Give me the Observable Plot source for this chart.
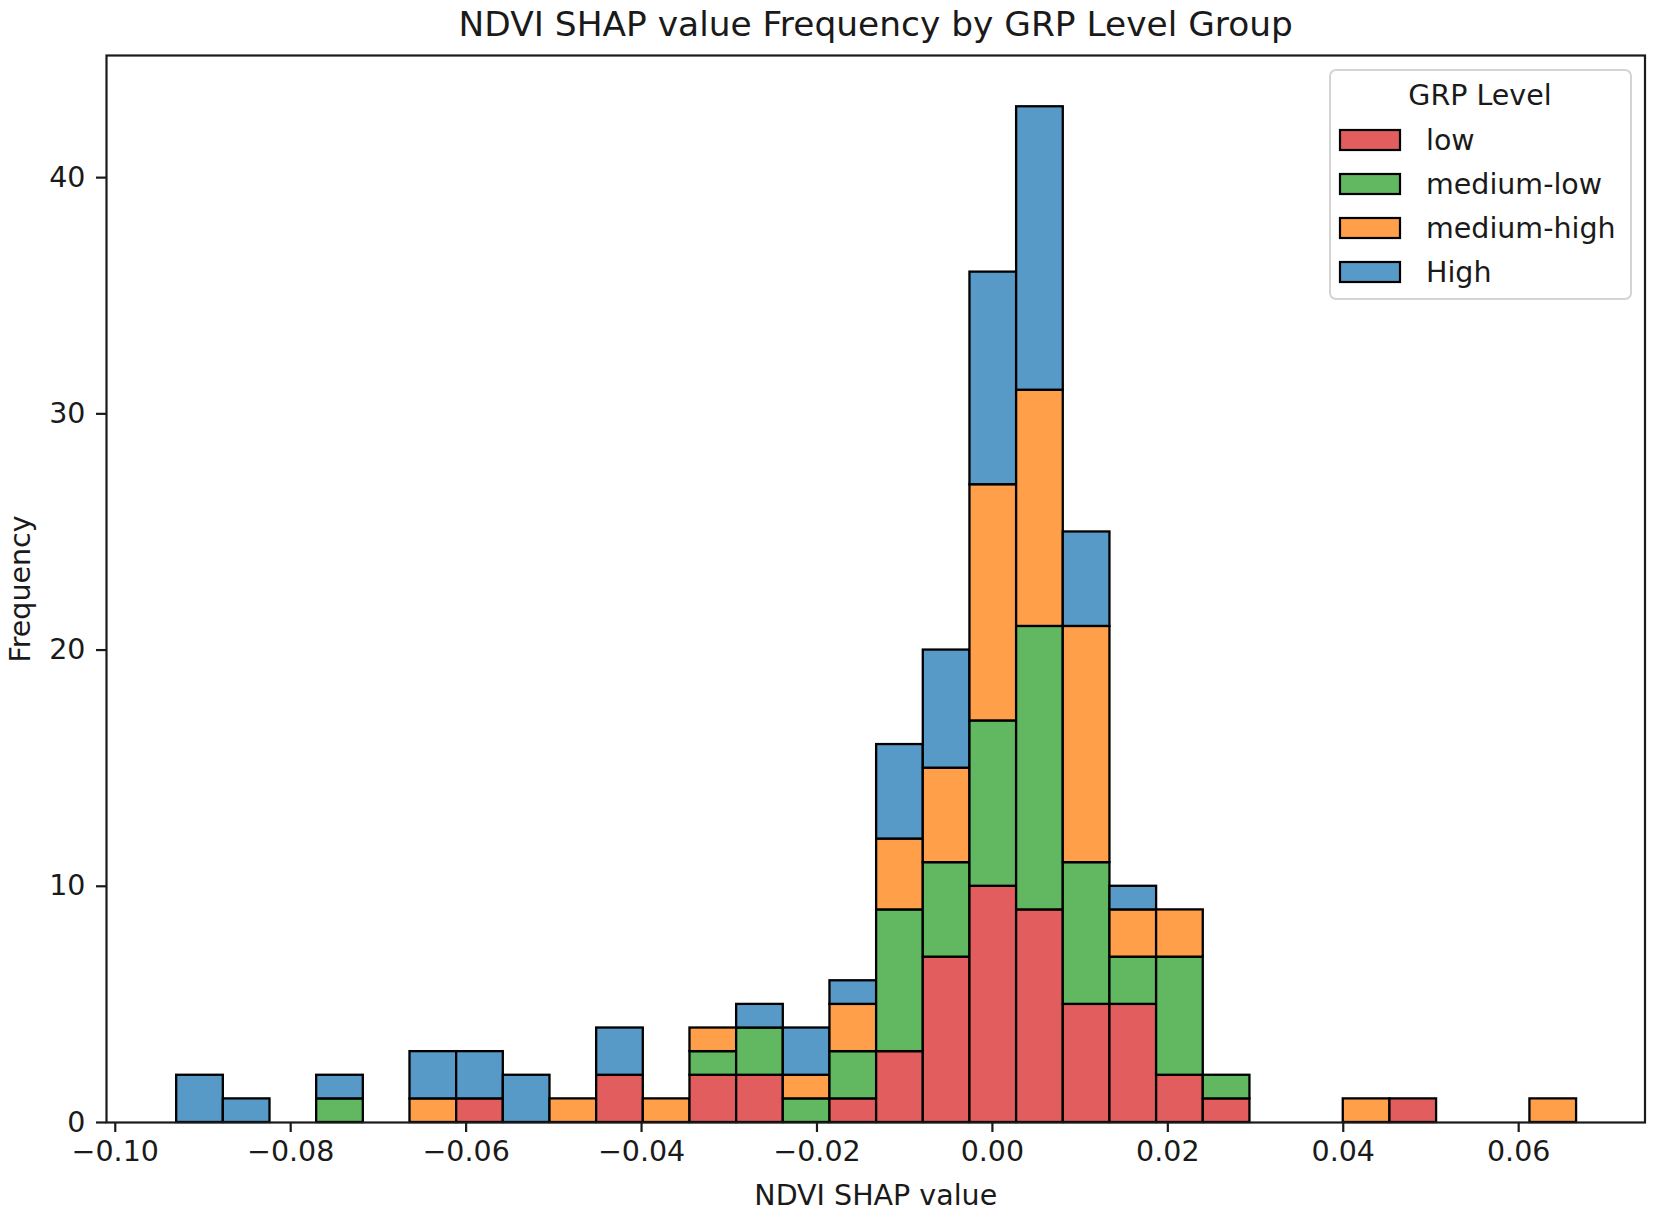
<!DOCTYPE html>
<html>
<head>
<meta charset="utf-8">
<script src="https://cdn.jsdelivr.net/npm/d3@7"></script>
<script src="https://cdn.jsdelivr.net/npm/@observablehq/plot@0.6"></script>
<style>
  html, body { margin: 0; padding: 0; background: #fff; overflow: hidden; }
  #chart svg { display: block; }
</style>
</head>
<body>
<div id="chart"></div>
<script>
// ---- data ----
const title = "NDVI SHAP value Frequency by GRP Level Group";
const xLabel = "NDVI SHAP value";
const yLabel = "Frequency";
const legendTitle = "GRP Level";
const groups = ["low", "medium-low", "medium-high", "High"];
const colors = ["#e15d5e", "#61b861", "#ff9f4a", "#5799c7"];
const binStart = -0.0930;
const binWidth = 0.00532;
const binCount = 30;
// counts per bin (30 bins, left to right)
const lowCounts =        [0,0,0,0,0,0,1,0,0,2,0,2,2,0,1,3,7,10,9,5,5,2,1,0,0,0,1,0,0,0];
const mediumLowCounts =  [0,0,0,1,0,0,0,0,0,0,0,1,2,1,2,6,4,7,12,6,2,5,1,0,0,0,0,0,0,0];
const mediumHighCounts = [0,0,0,0,0,1,0,0,1,0,1,1,0,1,2,3,4,10,10,10,2,2,0,0,0,1,0,0,0,1];
const highCounts =       [2,1,0,1,0,2,2,2,0,2,0,0,1,2,1,4,5,9,12,4,1,0,0,0,0,0,0,0,0,0];
const xTicks = [-0.10, -0.08, -0.06, -0.04, -0.02, 0.00, 0.02, 0.04, 0.06];
const yTicks = [0, 10, 20, 30, 40];

// ---- table ----
const seriesCounts = [lowCounts, mediumLowCounts, mediumHighCounts, highCounts];
const table = [];
for (let i = 0; i < binCount; i++) {
  groups.forEach((g, k) => {
    table.push({
      x1: binStart + i * binWidth,
      x2: binStart + (i + 1) * binWidth,
      count: seriesCounts[k][i],
      group: g
    });
  });
}

const W = 1655, H = 1213;
const mL = 106, mR = 10.5, mT = 55, mB = 91;
const font = "DejaVu Sans";
const tickFont = 28.5;

const chart = Plot.plot({
  width: W,
  height: H,
  marginLeft: mL,
  marginRight: mR,
  marginTop: mT,
  marginBottom: mB,
  style: { fontFamily: font, color: "#1a1a1a", background: "#fff", overflow: "visible" },
  x: { domain: [-0.1010, 0.0744] },
  y: { domain: [0, 45.17] },
  color: { domain: groups, range: colors },
  marks: [
    Plot.rectY(table, {
      x1: "x1", x2: "x2", y: "count", fill: "group",
      stroke: "#000", strokeWidth: 2.3
    }),
    Plot.frame({ stroke: "#1a1a1a", strokeWidth: 2.2 }),
    Plot.axisX({
      ticks: xTicks, tickSize: 10, tickPadding: 8, fontSize: tickFont,
      tickFormat: d3.format(".2f"), label: null, strokeWidth: 2.2
    }),
    Plot.axisY({
      ticks: yTicks, tickSize: 10, tickPadding: 11, fontSize: tickFont,
      tickFormat: d3.format("d"), label: null, strokeWidth: 2.2
    }),
    Plot.text([title], { frameAnchor: "top", lineAnchor: "middle", textAnchor: "middle", dy: -31, fontSize: 34.4, fill: "#1a1a1a" }),
    Plot.text([xLabel], { frameAnchor: "bottom", lineAnchor: "middle", textAnchor: "middle", dy: 73, fontSize: tickFont, fill: "#1a1a1a" }),
    Plot.text([yLabel], { frameAnchor: "left", lineAnchor: "middle", textAnchor: "middle", dx: -86, rotate: -90, fontSize: tickFont, fill: "#1a1a1a" })
  ]
});

document.getElementById("chart").appendChild(chart);

// ---- legend ----
const svg = d3.select(chart);
const lg = svg.append("g").attr("font-family", font).attr("font-size", tickFont)
  .attr("fill", "#1a1a1a").attr("text-anchor", "start");
lg.append("rect")
  .attr("x", 1330).attr("y", 70).attr("width", 301).attr("height", 229)
  .attr("rx", 6).attr("fill", "rgba(255,255,255,0.85)")
  .attr("stroke", "#d4d4d4").attr("stroke-width", 2);
lg.append("text")
  .attr("x", 1480).attr("y", 95).attr("dy", "0.35em")
  .attr("text-anchor", "middle").text(legendTitle);
groups.forEach((g, i) => {
  const cy = 140 + i * 44;
  lg.append("rect")
    .attr("x", 1340).attr("y", cy - 10).attr("width", 60).attr("height", 20)
    .attr("fill", colors[i]).attr("stroke", "#000").attr("stroke-width", 2.2);
  lg.append("text")
    .attr("x", 1426).attr("y", cy).attr("dy", "0.35em")
    .attr("text-anchor", "start")
    .text(g);
});
</script>
</body>
</html>
